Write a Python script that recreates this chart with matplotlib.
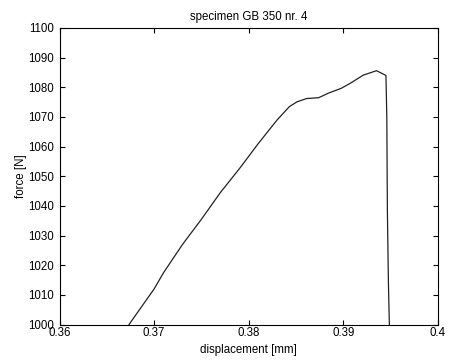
import matplotlib
matplotlib.use("Agg")
import matplotlib.pyplot as plt
import numpy as np

plt.rcParams['font.family'] = ['Liberation Sans', 'DejaVu Sans']

displacement = [0.36735, 0.3700, 0.3710, 0.3730, 0.3750, 0.3770, 0.3790, 0.3810,
                0.3830, 0.3843, 0.3851, 0.3861, 0.3874, 0.3884, 0.3898, 0.3907,
                0.3921, 0.3935, 0.3945, 0.39459, 0.39465, 0.39476, 0.39486]
force = [1000, 1012, 1017.5, 1027, 1035.5, 1044.5, 1052.5, 1061,
         1069, 1073.5, 1075.1, 1076.2, 1076.5, 1078, 1079.7, 1081.3,
         1084.1, 1085.6, 1084, 1070, 1038.6, 1014, 1000]

xticks = [0.36, 0.37, 0.38, 0.39, 0.40]
xticklabels = ['0.36', '0.37', '0.38', '0.39', '0.4']
yticks = list(range(1000, 1101, 10))

fig = plt.figure(figsize=(4.52, 3.61), dpi=100)
ax = fig.add_axes([59.5/452, 1 - 324.5/361, (438 - 59.5)/452, (324.5 - 28)/361])
ax.plot(displacement, force, color='#222222', lw=0.9)
ax.set_xlim(0.36, 0.40)
ax.set_ylim(1000, 1100)
ax.set_xticks(xticks)
ax.set_xticklabels(xticklabels)
ax.set_yticks(yticks)
ax.tick_params(direction='in', length=3.5, width=0.8, labelsize=8.3, top=True, right=True,
               pad=2, color='black')
ax.tick_params(axis='y', pad=4)
for s in ax.spines.values():
    s.set_linewidth(0.8)
ax.set_title('specimen GB 350 nr. 4', fontsize=8.3, pad=6)
ax.set_xlabel('displacement [mm]', fontsize=8.3, labelpad=3.5)
ax.set_ylabel('force [N]', fontsize=8.3, labelpad=1)
fig.savefig('out.png', dpi=100)
